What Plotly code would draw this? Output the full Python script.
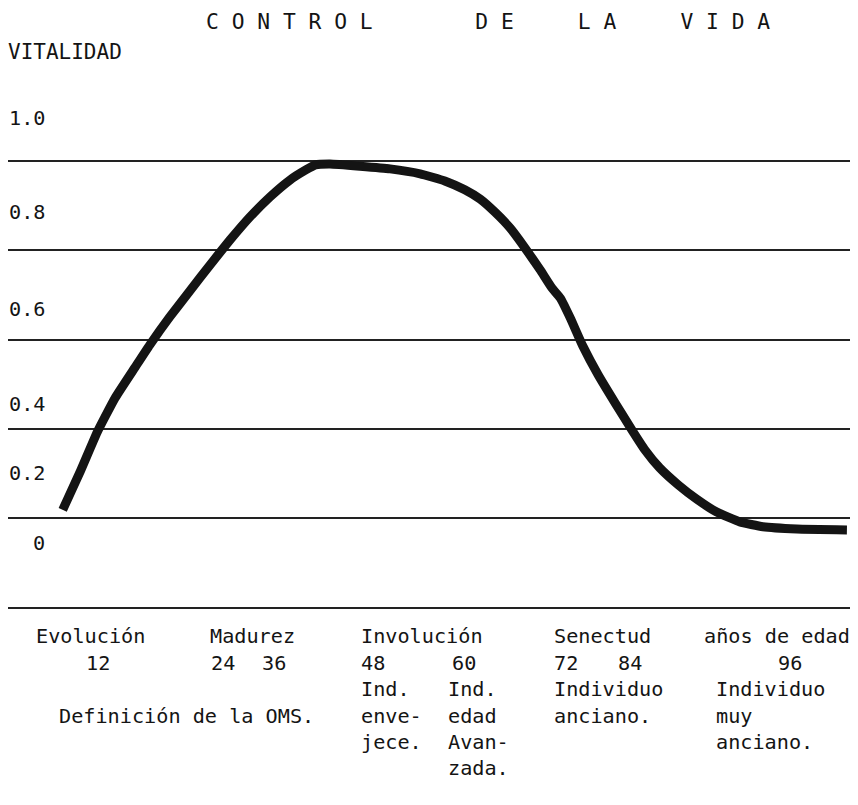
import plotly.graph_objects as go

# ---------------- data ----------------
title_text = "C O N T R O L        D E     L A     V I D A"
y_title = "VITALIDAD"

# curve: age (years) vs vitality
age = [7.1, 9.4, 11.6, 13.9, 16.5, 18.4, 21.0, 23.6, 26.2, 28.8, 31.4, 34.0,
       36.6, 38.6, 39.9, 41.8, 45.7, 49.6, 53.5, 56.7, 59.3, 61.3, 63.2, 65.2,
       67.1, 69.1, 70.6, 71.7, 73.0, 74.6, 76.6, 78.8, 81.0, 82.7, 84.6, 87.0,
       89.4, 92.0, 95.0, 98.0, 102.4, 108.9]
vitality = [0.118, 0.205, 0.293, 0.369, 0.438, 0.488, 0.551, 0.609, 0.667, 0.723,
            0.775, 0.820, 0.858, 0.880, 0.892, 0.894, 0.889, 0.883, 0.872, 0.856,
            0.836, 0.815, 0.786, 0.750, 0.706, 0.656, 0.616, 0.593, 0.548, 0.486,
            0.421, 0.358, 0.297, 0.252, 0.212, 0.174, 0.142, 0.113, 0.091, 0.080,
            0.075, 0.073]

grid_values = [0.9, 0.7, 0.5, 0.3, 0.1]
tick_values = [1.0, 0.8, 0.6, 0.4, 0.2, 0.0]
tick_labels = ["1.0", "0.8", "0.6", "0.4", "0.2", "0"]

stages = ["Evolución", "Madurez", "Involución", "Senectud", "años de edad"]
age_labels = ["12", "24", "36", "48", "60", "72", "84", "96"]
oms_title = "Definición de la OMS."
oms_48 = ["Ind.", "enve-", "jece."]
oms_60 = ["Ind.", "edad", "Avan-", "zada."]
oms_72 = ["Individuo", "anciano."]
oms_96 = ["Individuo", "muy", "anciano."]

# ---------------- layout / style ----------------
PAGE_OFF = 8                      # default body margin of the html page
FIG_W, FIG_H = 858 - PAGE_OFF, 805 - PAGE_OFF
PLOT_L, PLOT_R, PLOT_T, PLOT_B = 8, 850, 90, 607   # plot area in page pixels
L = PLOT_L - PAGE_OFF
R = FIG_W - (PLOT_R - PAGE_OFF)
T = PLOT_T - PAGE_OFF
B = FIG_H - (PLOT_B - PAGE_OFF)
W, H = PLOT_R - PLOT_L, PLOT_B - PLOT_T
FONT = "DejaVu Sans Mono"
INK = "#141414"
FS = 20.2

def px_x(px):
    return (px - PLOT_L) / W

def px_y(py):
    return (PLOT_B - py) / H

fig = go.Figure()
fig.add_trace(go.Scatter(
    x=age, y=vitality, mode="lines",
    line=dict(color=INK, width=9, shape="spline", smoothing=0.4),
    hoverinfo="skip", showlegend=False,
))

ann = []
def text(s, px, py, size=FS, anchor="left"):
    ann.append(dict(text=s, x=px_x(px), y=px_y(py), xref="paper", yref="paper",
                    xanchor=anchor, yanchor="middle", showarrow=False,
                    font=dict(family=FONT, size=size, color=INK)))

text(title_text, 488, 22, size=21.3, anchor="center")
text(y_title, 6, 52, size=21)

# y tick labels (typed, right aligned)
label_nudge = [-1, -6, -14, -20, 0, 19]
for v, s, n in zip(tick_values, tick_labels, label_nudge):
    ann.append(dict(text=s, x=px_x(47), y=v, xref="paper", yref="y",
                    xanchor="right", yanchor="middle", showarrow=False, yshift=n,
                    font=dict(family=FONT, size=FS, color=INK)))

# typed table below the chart
rows = [636, 663, 689, 716, 742, 768]
stage_x = [34, 208, 359, 552, 702]
for s, x in zip(stages, stage_x):
    text(s, x, rows[0])
age_x = [84, 209, 260, 359, 450, 552, 616, 776]
for s, x in zip(age_labels, age_x):
    text(s, x, rows[1])
text(oms_title, 57, rows[3])
for i, s in enumerate(oms_48):
    text(s, 359, rows[2 + i])
for i, s in enumerate(oms_60):
    text(s, 446, rows[2 + i])
for i, s in enumerate(oms_72):
    text(s, 552, rows[2 + i])
for i, s in enumerate(oms_96):
    text(s, 714, rows[2 + i])

fig.update_layout(
    width=FIG_W, height=FIG_H,
    margin=dict(l=L, r=R, t=T, b=B, pad=0),
    paper_bgcolor="white", plot_bgcolor="white",
    annotations=ann,
    xaxis=dict(range=[0, 109.3], showgrid=False, zeroline=False,
               showticklabels=False, ticks="", showline=True,
               linecolor="#222222", linewidth=2),
    yaxis=dict(range=[-0.1, 1.06], tickvals=grid_values, showticklabels=False,
               ticks="", showgrid=True, gridcolor="#222222", gridwidth=1.6,
               zeroline=False, showline=False),
)

fig.write_html("out.html")
